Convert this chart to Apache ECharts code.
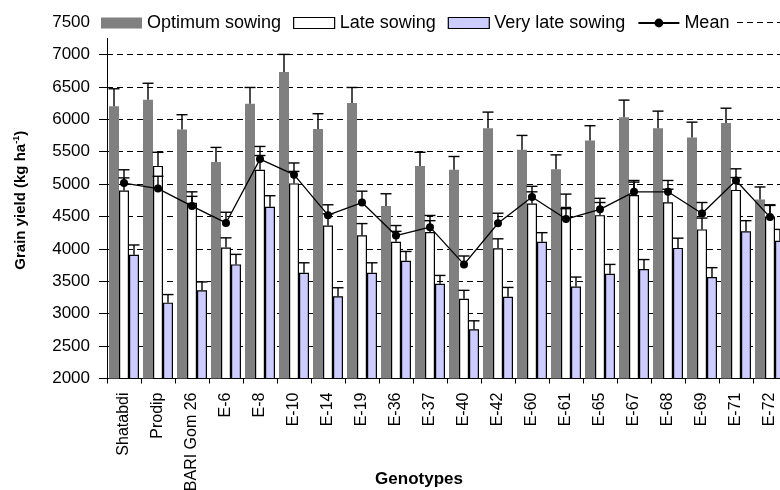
<!DOCTYPE html>
<html>
<head>
<meta charset="utf-8">
<script src="https://cdn.jsdelivr.net/npm/echarts@6/dist/echarts.min.js"></script>
<style>
  html, body { margin: 0; padding: 0; background: #fff; }
  #chart { width: 780px; height: 490px; }
</style>
</head>
<body>
<div id="chart"></div>
<script>
// Genotypes on the category axis
const genotypes = ['Shatabdi', 'Prodip', 'BARI Gom 26', 'E-6', 'E-8', 'E-10', 'E-14', 'E-19', 'E-36', 'E-37',
  'E-40', 'E-42', 'E-60', 'E-61', 'E-65', 'E-67', 'E-68', 'E-69', 'E-71', 'E-72'];

// Grain yield (kg/ha) per sowing date, with the upper error-bar length of each
const optimumSowing = [6200, 6300, 5840, 5340, 6240, 6730, 5850, 6250, 4660, 5280,
  5220, 5860, 5530, 5230, 5670, 6030, 5860, 5720, 5940, 4760];
const optimumErr = [270, 255, 230, 225, 250, 270, 235, 240, 190, 210,
  205, 250, 220, 220, 230, 265, 265, 235, 230, 195];

const lateSowing = [4900, 5280, 4710, 4020, 5220, 5010, 4360, 4210, 4110, 4260,
  3230, 4010, 4700, 4650, 4520, 4830, 4720, 4300, 4910, 4500];
const lateErr = [195, 210, 170, 150, 220, 185, 180, 180, 160, 175,
  130, 145, 180, 195, 195, 200, 200, 175, 190, 170];

const veryLateSowing = [3910, 3170, 3360, 3760, 4650, 3630, 3270, 3630, 3815, 3460,
  2760, 3260, 4110, 3420, 3615, 3690, 4015, 3565, 4270, 4125];
const veryLateErr = [150, 125, 130, 155, 170, 155, 130, 155, 145, 130,
  130, 145, 140, 145, 145, 145, 150, 145, 165, 175];

const meanYield = [5015, 4930, 4660, 4400, 5385, 5145, 4520, 4715, 4205, 4335,
  3760, 4395, 4800, 4460, 4610, 4880, 4880, 4545, 5055, 4490];
const meanErr = [205, 190, 150, 165, 195, 180, 160, 175, 155, 180,
  130, 155, 165, 160, 170, 175, 175, 170, 180, 190];

// Y-axis ticks
const yTicks = [2000, 2500, 3000, 3500, 4000, 4500, 5000, 5500, 6000, 6500, 7000, 7500];

const FONT = "'Liberation Sans', Arial, sans-serif";
const BAR_FRAC = 0.294;   // each bar's share of a category band

// Upper error bar with a cap, shifted to sit over its own bar in the group
function errorBar(slot) {
  return function (params, api) {
    const i = api.value(0), v = api.value(1), e = api.value(2);
    const band = api.size([1, 0])[0];
    const base = api.coord([i, v]);
    const top = api.coord([i, v + e]);
    const x = base[0] + slot * band * BAR_FRAC;
    const cap = 5.5;
    const st = { stroke: '#000', lineWidth: 1.4 };
    return {
      type: 'group',
      children: [
        { type: 'line', shape: { x1: x, y1: base[1], x2: x, y2: top[1] }, style: st },
        { type: 'line', shape: { x1: x - cap, y1: top[1], x2: x + cap, y2: top[1] }, style: st }
      ]
    };
  };
}

function errData(vals, errs) {
  return vals.map((v, i) => [i, v, errs[i]]);
}

const chart = echarts.init(document.getElementById('chart'), null, { renderer: 'canvas' });

const legendText = (w) => ({ fontFamily: FONT, fontSize: 18, color: '#000', width: w });

chart.setOption({
  animation: false,
  backgroundColor: '#fff',
  textStyle: { fontFamily: FONT, color: '#000' },
  grid: { left: 107, top: 22, width: 680, height: 356.5, containLabel: false, outerBoundsMode: 'none' },
  legend: {
    left: 96, top: 9,
    padding: [5, 5, 6, 5],
    backgroundColor: '#fff',
    itemWidth: 41, itemHeight: 11, itemGap: 12,
    textStyle: { fontFamily: FONT, fontSize: 18, color: '#000' },
    data: [
      { name: 'Optimum sowing', icon: 'rect', itemStyle: { color: '#808080', borderWidth: 0 }, textStyle: legendText(141) },
      { name: 'Late sowing', icon: 'rect', itemStyle: { color: '#fff', borderColor: '#000', borderWidth: 1.2 }, textStyle: legendText(97) },
      { name: 'Very late sowing', icon: 'rect', itemStyle: { color: '#ccccff', borderColor: '#000', borderWidth: 1.2 }, textStyle: legendText(129) },
      { name: 'Mean', textStyle: legendText(44) }
    ]
  },
  xAxis: {
    type: 'category',
    data: genotypes,
    boundaryGap: true,
    name: 'Genotypes',
    nameLocation: 'middle',
    nameGap: 92,
    nameMoveOverlap: false,
    nameTextStyle: { fontFamily: FONT, fontSize: 17, fontWeight: 'bold', color: '#000', padding: [0, 56, 0, 0] },
    axisLine: { lineStyle: { color: '#000', width: 1 } },
    axisTick: { show: true, length: 5, lineStyle: { color: '#000' } },
    axisLabel: { interval: 0, rotate: 90, margin: 14, fontSize: 16, color: '#000', fontFamily: FONT },
    splitLine: { show: false }
  },
  yAxis: {
    type: 'value',
    min: yTicks[0],
    max: yTicks[yTicks.length - 1],
    interval: 500,
    name: 'Grain yield (kg ha{sup|-1})',
    nameLocation: 'middle',
    nameRotate: 90,
    nameGap: 77,
    nameMoveOverlap: false,
    nameTextStyle: {
      fontFamily: FONT, fontSize: 15, fontWeight: 'bold', color: '#000', lineHeight: 18,
      rich: { sup: { fontFamily: FONT, fontSize: 9, fontWeight: 'bold', color: '#000', verticalAlign: 'top', lineHeight: 18 } }
    },
    axisLine: { show: true, lineStyle: { color: '#000', width: 1 } },
    axisTick: { show: true, length: 8, lineStyle: { color: '#000' } },
    axisLabel: { margin: 17, fontSize: 17, color: '#000', fontFamily: FONT, formatter: (v) => String(v) },
    splitLine: { show: true, lineStyle: { color: '#000', type: [6, 4], width: 1 } }
  },
  series: [
    {
      name: 'Optimum sowing', type: 'bar', data: optimumSowing,
      barWidth: (BAR_FRAC * 100) + '%', barGap: '0%',
      itemStyle: { color: '#808080' }, z: 2
    },
    {
      name: 'Late sowing', type: 'bar', data: lateSowing,
      barWidth: (BAR_FRAC * 100) + '%', barGap: '0%',
      itemStyle: { color: '#fff', borderColor: '#000', borderWidth: 1.2 }, z: 2
    },
    {
      name: 'Very late sowing', type: 'bar', data: veryLateSowing,
      barWidth: (BAR_FRAC * 100) + '%', barGap: '0%',
      itemStyle: { color: '#ccccff', borderColor: '#000', borderWidth: 1.2 }, z: 2
    },
    { type: 'custom', name: 'optErr', renderItem: errorBar(-1), data: errData(optimumSowing, optimumErr), encode: { x: 0, y: 1 }, z: 3, silent: true },
    { type: 'custom', name: 'lateErr', renderItem: errorBar(0), data: errData(lateSowing, lateErr), encode: { x: 0, y: 1 }, z: 3, silent: true },
    { type: 'custom', name: 'vlateErr', renderItem: errorBar(1), data: errData(veryLateSowing, veryLateErr), encode: { x: 0, y: 1 }, z: 3, silent: true },
    { type: 'custom', name: 'meanErr', renderItem: errorBar(0), data: errData(meanYield, meanErr), encode: { x: 0, y: 1 }, z: 4, silent: true },
    {
      name: 'Mean', type: 'line', data: meanYield,
      symbol: 'circle', symbolSize: 8,
      itemStyle: { color: '#000' },
      lineStyle: { color: '#000', width: 1.3 },
      z: 5
    }
  ]
});
</script>
</body>
</html>
